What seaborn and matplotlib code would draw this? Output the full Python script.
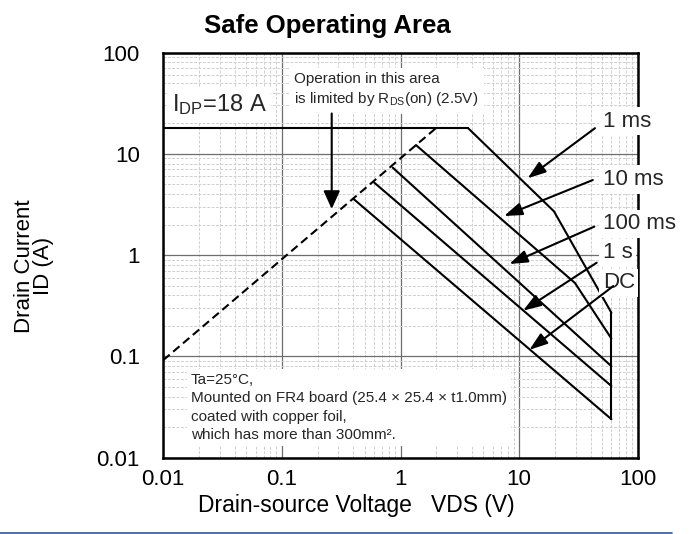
import matplotlib
matplotlib.use("Agg")
import matplotlib.pyplot as plt
from matplotlib.lines import Line2D
from matplotlib.ticker import LogLocator, NullFormatter, FixedLocator, FixedFormatter
from matplotlib.transforms import Bbox, TransformedBbox
import numpy as np
import pandas as pd
import seaborn as sns

# ---- SOA boundary data (VDS in V, ID in A) ----
idp_vds = [0.01, 3.7]
idp_id = [18, 18]

pw_1ms_vds = [3.7, 19.7, 60]
pw_1ms_id = [18, 2.7, 0.27]

pw_10ms_vds = [1.35, 29.6, 60]
pw_10ms_id = [12.2, 0.53, 0.15]

pw_100ms_vds = [0.86, 60]
pw_100ms_id = [7.3, 0.080]

pw_1s_vds = [0.60, 60]
pw_1s_id = [5.2, 0.051]

dc_vds = [0.40, 60]
dc_id = [3.6, 0.024]

vdss_vds = [60, 60]
vdss_id = [0.27, 0.024]

rds_vds = [0.01, 2.0]
rds_id = [0.092, 18]

tick_values = [0.01, 0.1, 1, 10, 100]
tick_labels = ["0.01", "0.1", "1", "10", "100"]

pulse_labels = ["1 ms", "10 ms", "100 ms", "1 s", "DC"]

sns.set_theme(style="white")
plt.rcParams["font.family"] = ["Liberation Sans", "DejaVu Sans"]
plt.rcParams["mathtext.fontset"] = "custom"
plt.rcParams["mathtext.rm"] = "Liberation Sans"

W, H = 693, 534
fig = plt.figure(figsize=(W / 100, H / 100), dpi=100)
fig.patch.set_facecolor("white")
ax = fig.add_axes([163.3 / W, 1 - 457.7 / H, (637.7 - 163.3) / W, (457.7 - 52.5) / H])
ax.set_facecolor("white")

solid = pd.concat([
    pd.DataFrame({"vds": idp_vds, "id": idp_id, "curve": "IDP"}),
    pd.DataFrame({"vds": pw_1ms_vds, "id": pw_1ms_id, "curve": "1 ms"}),
    pd.DataFrame({"vds": pw_10ms_vds, "id": pw_10ms_id, "curve": "10 ms"}),
    pd.DataFrame({"vds": pw_100ms_vds, "id": pw_100ms_id, "curve": "100 ms"}),
    pd.DataFrame({"vds": pw_1s_vds, "id": pw_1s_id, "curve": "1 s"}),
    pd.DataFrame({"vds": dc_vds, "id": dc_id, "curve": "DC"}),
    pd.DataFrame({"vds": vdss_vds, "id": vdss_id, "curve": "VDSS"}),
], ignore_index=True)
rds = pd.DataFrame({"vds": rds_vds, "id": rds_id})

sns.lineplot(data=solid, x="vds", y="id", units="curve", estimator=None,
             sort=False, color="black", lw=1.5, ax=ax, zorder=2)
sns.lineplot(data=rds, x="vds", y="id", estimator=None, sort=False,
             color="black", lw=1.5, ax=ax, zorder=2, linestyle=(0, (4, 2.2)))

ax.set_xscale("log")
ax.set_yscale("log")
ax.set_xlim(0.01, 100)
ax.set_ylim(0.01, 100)

ax.xaxis.set_major_locator(FixedLocator(tick_values))
ax.xaxis.set_major_formatter(FixedFormatter(tick_labels))
ax.yaxis.set_major_locator(FixedLocator(tick_values))
ax.yaxis.set_major_formatter(FixedFormatter(tick_labels))
for axis in (ax.xaxis, ax.yaxis):
    axis.set_minor_locator(LogLocator(base=10, subs=np.arange(2, 10), numticks=20))
    axis.set_minor_formatter(NullFormatter())

ax.set_axisbelow(True)
ax.grid(which="major", color="#6e6e6e", lw=0.9, ls="-")
ax.grid(which="minor", color="#cfcfcf", lw=0.7, ls=(0, (3, 1.5)))

ax.tick_params(axis="both", which="major", direction="in", length=5, width=1.2,
               color="black", labelsize=16, labelcolor="black")
ax.tick_params(axis="x", which="major", pad=8)
ax.tick_params(axis="y", which="major", pad=17)
ax.tick_params(axis="both", which="minor", length=0)
for sp in ax.spines.values():
    sp.set_color("black")
    sp.set_linewidth(1.8)
    sp.set_visible(True)

ax.set_xlabel("Drain-source Voltage   VDS (V)", fontsize=16.5, color="black")
ax.xaxis.label.set_va("baseline")
ax.xaxis.set_label_coords((356 - 163.3) / 474.4, (457.7 - 511.7) / 405.2)
ax.set_ylabel("Drain Current\nID (A)", fontsize=16, color="black", linespacing=0.82)
ax.yaxis.label.set_va("center")
ax.yaxis.set_label_coords((34 - 163.3) / 474.4, (457.7 - 266) / 405.2)

fig.text(327.5 / W, 1 - 33.3 / H, "Safe Operating Area", ha="center",
         va="baseline", fontsize=18.5, fontweight="bold", color="black")

white_box = dict(facecolor="white", edgecolor="none", pad=3)

# peak drain current label
ax.text(0.0118, 26.1, r"$\mathregular{I_{DP}}$=18 A", fontsize=17, ha="left",
        va="baseline", bbox=white_box, zorder=3)

# on-resistance limit note and its arrow (baseline given for the last line)
ax.text(0.1265, 31.5,
        "Operation in this area\nis limited by R$\\mathregular{_{DS}}$(on) (2.5V)",
        fontsize=11, ha="left", va="baseline", linespacing=1.35,
        bbox=dict(facecolor="white", edgecolor="none", pad=4), zorder=3)
ax.annotate("", xy=(0.263, 2.85), xytext=(0.263, 25),
            arrowprops=dict(arrowstyle="-|>,head_length=1.1,head_width=0.5",
                            color="black", lw=1.5, shrinkA=0, shrinkB=0,
                            mutation_scale=10), zorder=4)

# pulse-width labels with arrows
label_x = 50.7
label_base_y = [18.5, 4.92, 1.80, 0.93, 0.47]
arrow_start = [(43.6, 17.9), (41.8, 5.51), (43.1, 1.91), (45.1, 0.841), (62.3, 0.495)]
arrow_tip = [(11.8, 5.73), (7.46, 2.43), (8.27, 0.817), (10.8, 0.283), (12.2, 0.116)]

clip = TransformedBbox(Bbox([[0, 0], [677 / W, 1]]), fig.transFigure)
for lab, ly, st, tp in zip(pulse_labels, label_base_y, arrow_start, arrow_tip):
    t = ax.text(label_x, ly, lab, fontsize=16, ha="left", va="baseline",
                bbox=dict(facecolor="white", edgecolor="none", pad=2.5), zorder=3)
    t.set_clip_box(clip)
    t.set_clip_on(True)
    ax.annotate("", xy=tp, xytext=st,
                arrowprops=dict(arrowstyle="-|>,head_length=1.1,head_width=0.38",
                                color="black", lw=1.5, shrinkA=0, shrinkB=0,
                                mutation_scale=10), zorder=4)

# mounting conditions (baseline given for the last line)
ax.text(0.0170, 0.0152,
        "Ta=25\u00b0C,\nMounted on FR4 board (25.4 \u00d7 25.4 \u00d7 t1.0mm)\n"
        "coated with copper foil,\nwhich has more than 300mm\u00b2.",
        fontsize=11, ha="left", va="baseline", linespacing=1.4,
        bbox=dict(facecolor="white", edgecolor="none", pad=3), zorder=3)

fig.add_artist(Line2D([0, 672 / W], [1.5 / H, 1.5 / H], color="#2f5597",
                      lw=1.2, transform=fig.transFigure))

fig.savefig("out.png", dpi=100, facecolor="white")
